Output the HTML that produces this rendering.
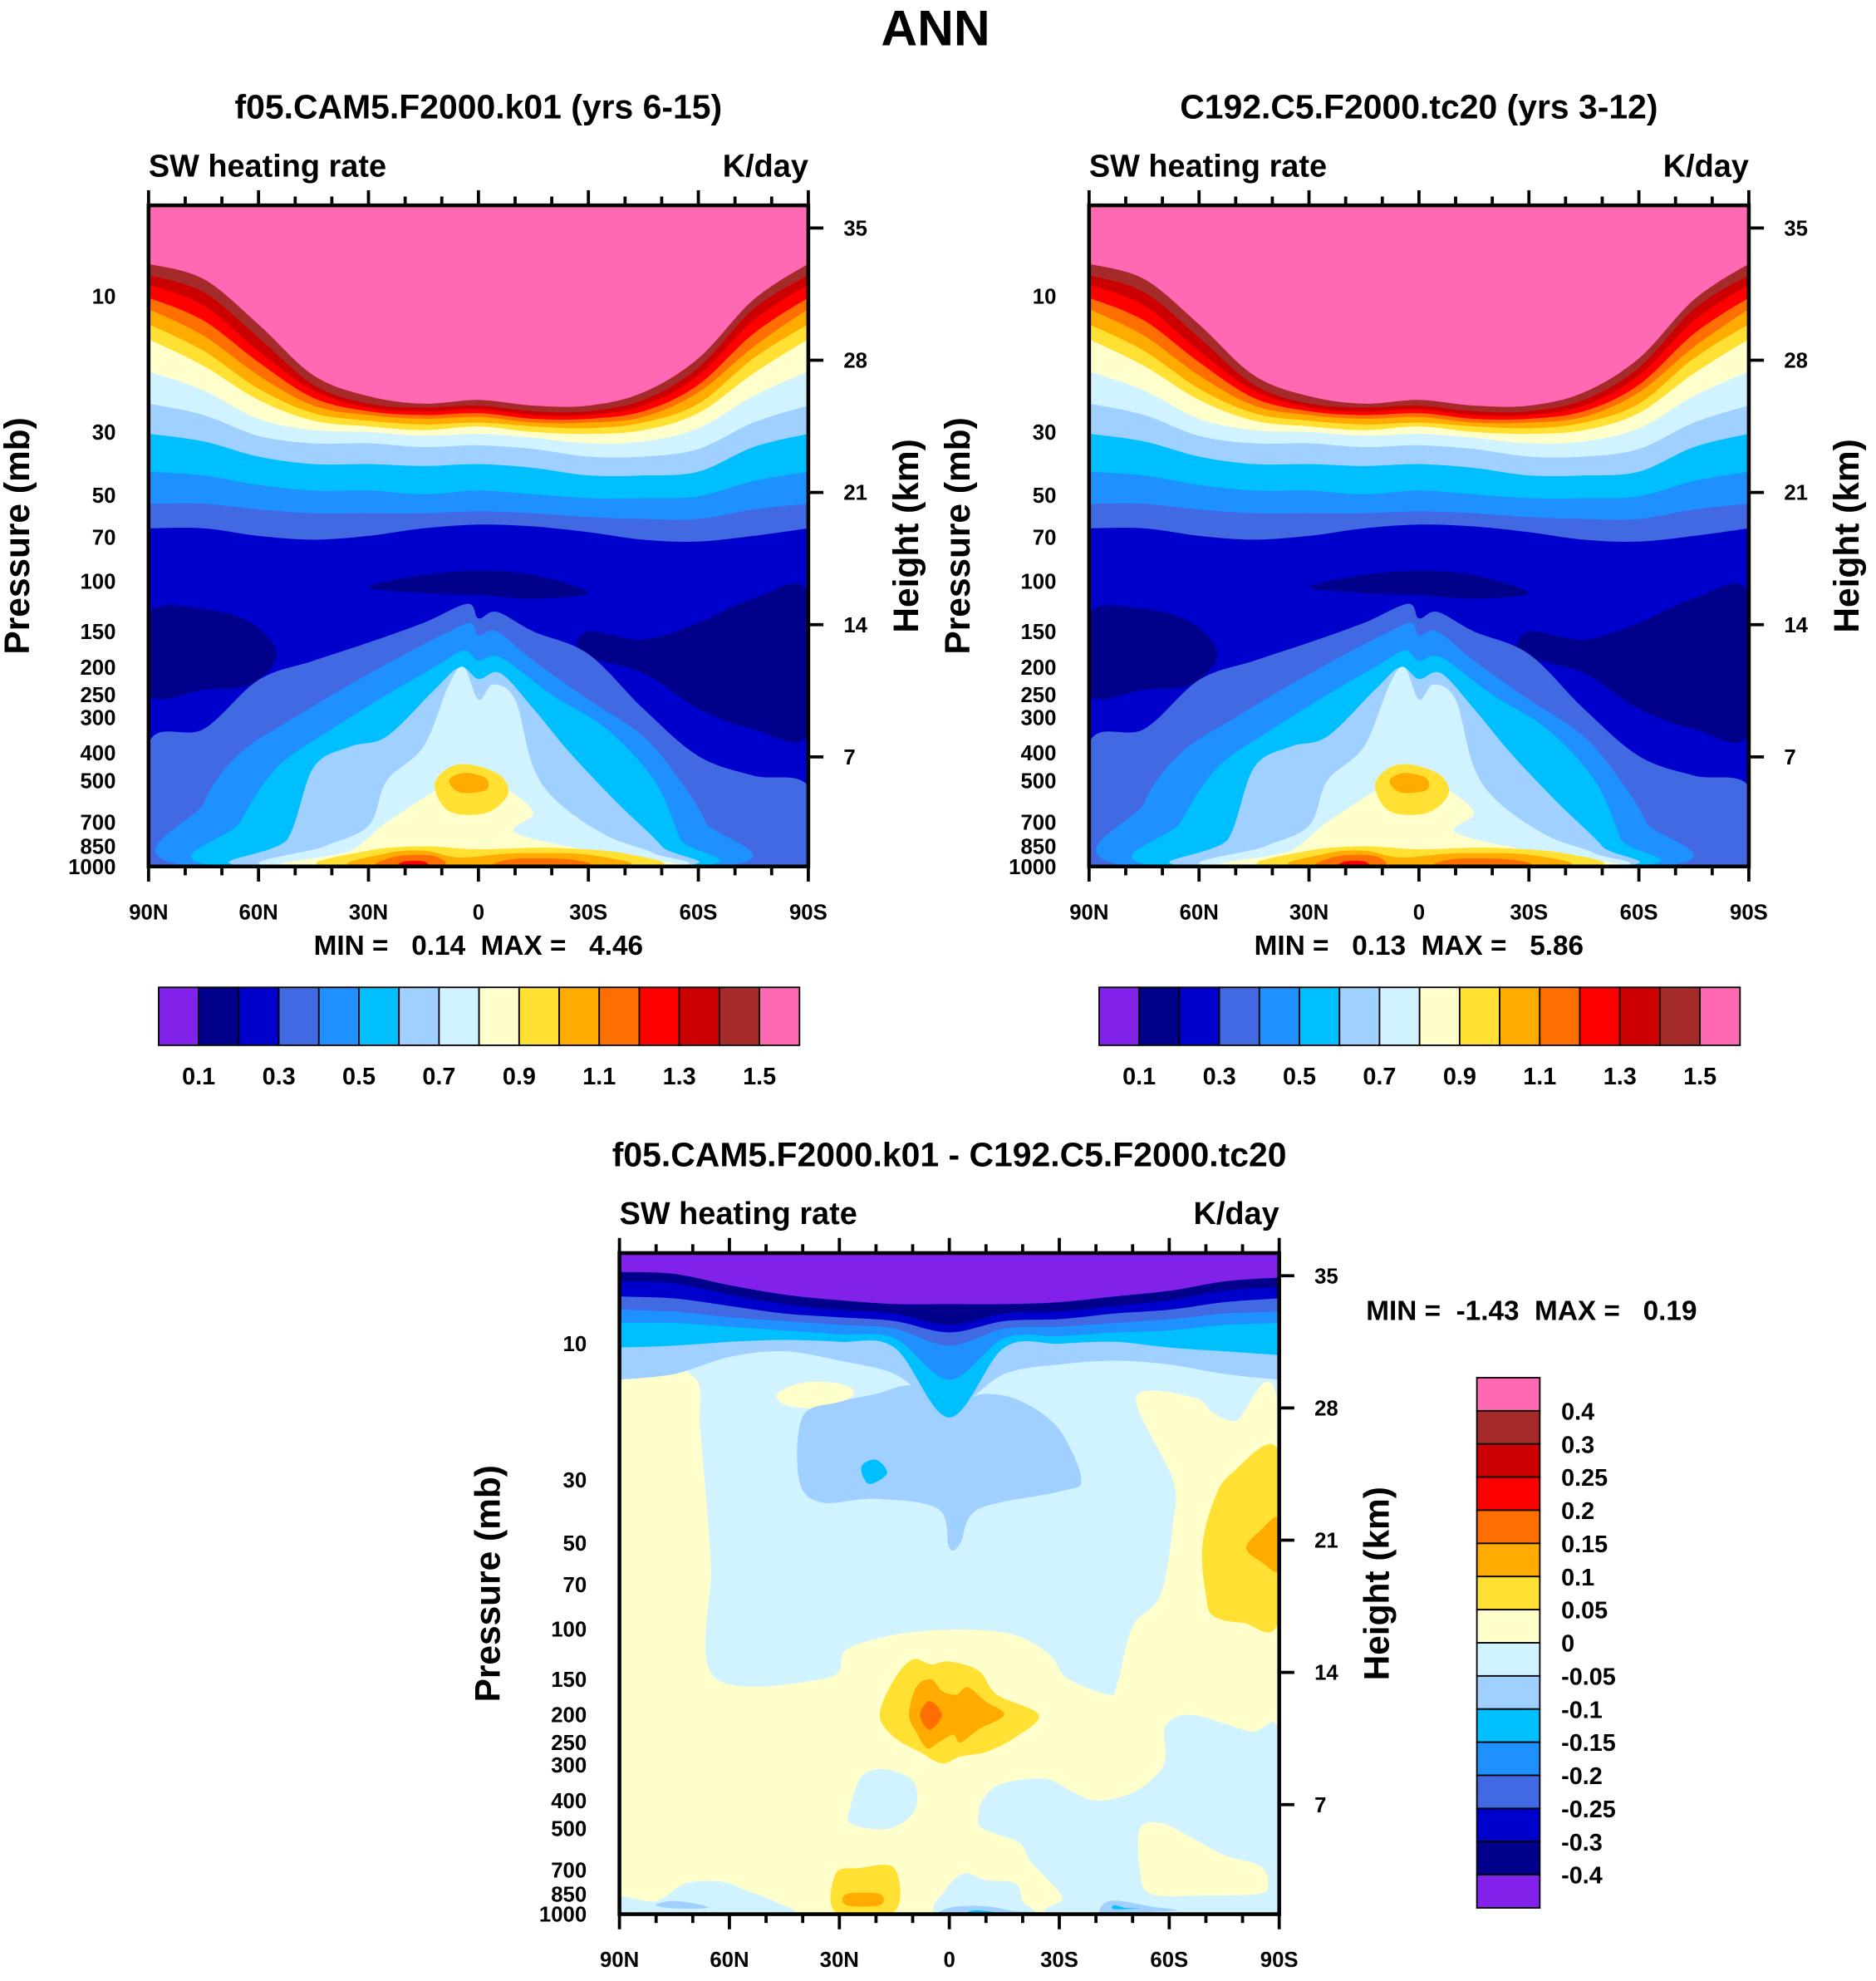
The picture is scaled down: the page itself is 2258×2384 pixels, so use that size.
<!DOCTYPE html>
<html><head><meta charset="utf-8"><title>ANN SW heating rate</title>
<style>
html,body{margin:0;padding:0;background:#fff;}
svg{display:block;}
text{font-family:"Liberation Sans",Arial,sans-serif;font-weight:bold;fill:#000;white-space:pre;}
</style></head>
<body>
<svg id="fig" xmlns="http://www.w3.org/2000/svg" width="2258" height="2384" viewBox="0 0 1490 1573">
<rect width="1490" height="1573" fill="#fff"/>
<text x="743" y="36" font-size="40" text-anchor="middle">ANN</text>
<g id="root"></g>
</svg>
<script>
// ---------- data ----------
const LATS=[90,75,60,45,30,15,0,-15,-30,-45,-60,-75,-90];
const LEVELS_ABS=[0.1,0.2,0.3,0.4,0.5,0.6,0.7,0.8,0.9,1.0,1.1,1.2,1.3,1.4,1.5];
const TICKS_ABS=["0.1","0.3","0.5","0.7","0.9","1.1","1.3","1.5"];
const TICKS_DIFF=["0.4","0.3","0.25","0.2","0.15","0.1","0.05","0","-0.05","-0.1","-0.15","-0.2","-0.25","-0.3","-0.4"];
const P_TICKS=[10,30,50,70,100,150,200,250,300,400,500,700,850,1000];
const KM_TICKS=[35,28,21,14,7];
const LAT_LABELS=["90N","60N","30N","0","30S","60S","90S"];
const LAT_VALUES=[90,60,30,0,-30,-60,-90];
// stratospheric contour heights (km) at LATS for levels 0.3..1.5 (panel 1 & 2)
const strat03=[19.1,19.1,18.7,18.5,18.7,19.1,19.3,19.2,18.9,18.5,18.4,18.7,19.1];
const strat04=[20.4,20.4,20.1,19.9,19.9,19.9,20,19.9,19.7,19.6,19.6,20.1,20.4];
const strat05=[22.1,21.9,21.4,21.1,21.1,20.9,21.1,20.9,20.7,20.7,20.8,21.6,22.1];
const strat06=[24.1,23.7,22.9,22.5,22.5,22.4,22.5,22.3,21.9,21.9,22.1,23.4,24.1];
const strat07=[25.7,25.1,24,23.6,23.6,23.4,23.5,23.3,22.9,22.9,23.3,24.7,25.6];
const strat08=[27.4,26.4,24.9,24.3,24.2,24,24.1,23.9,23.6,23.7,24.4,26.1,27.4];
const strat09=[29.1,27.7,25.9,24.8,24.5,24.3,24.5,24.2,24.1,24.3,25.2,27.3,29.1];
const strat10=[29.9,28.5,26.5,25.2,24.8,24.6,24.7,24.5,24.4,24.7,25.7,28.1,29.9];
const strat11=[30.7,29.3,27.2,25.6,25.1,24.9,25,24.7,24.7,25,26.3,28.7,30.7];
const strat12=[31.3,30.1,27.9,26,25.3,25.1,25.2,24.9,24.9,25.3,26.7,29.4,31.3];
const strat13=[32,30.9,28.5,26.4,25.5,25.3,25.4,25.1,25.1,25.6,27.2,30.1,32];
const strat14=[32.5,31.6,29.2,26.7,25.7,25.5,25.6,25.3,25.3,25.9,27.6,30.7,32.5];
const strat15=[33.1,32.3,29.9,27.2,26.1,25.7,25.9,25.6,25.6,26.3,28.1,31.2,33.1];
// tropospheric contour polygons [lat, pressure mb]
const navyLeft=[[90,130],[75,125],[62,140],[55,180],[62,230],[75,240],[90,250]];
const navyRight=[[-90,110],[-75,115],[-60,140],[-45,160],[-30,150],[-28,180],[-45,210],[-60,280],[-75,330],[-90,340]];
const navyCenter=[[30,105],[15,95],[0,92],[-15,95],[-30,110],[-15,115],[0,112],[15,110]];
const trop03=[[90,1000],[90,370],[75,330],[60,222],[45,190],[30,164],[15,140],[3,120],[0,135],[-5,128],[-15,150],[-30,180],[-45,280],[-60,410],[-75,480],[-90,525],[-90,1000]];
const trop04=[[78,1000],[75,600],[65,400],[50,300],[35,230],[20,180],[8,150],[2,140],[0,155],[-5,150],[-15,190],[-30,260],[-45,350],[-55,500],[-62,700],[-65,1000]];
const trop05=[[70,1000],[65,700],[55,450],[40,330],[25,250],[12,200],[4,175],[0,190],[-6,185],[-20,250],[-35,330],[-48,500],[-55,800],[-57,1000]];
const trop06=[[62,1000],[52,800],[45,450],[35,380],[25,350],[12,240],[5,200],[0,220],[-6,210],[-15,280],[-25,400],[-38,600],[-50,850],[-52,1000]];
const trop07=[[55,1000],[42,850],[30,720],[25,500],[15,380],[8,230],[4,200],[0,260],[-4,230],[-10,260],[-15,450],[-22,600],[-35,780],[-48,900],[-50,1000]];
const trop08=[[50,1000],[35,880],[25,700],[10,530],[0,500],[-8,540],[-15,650],[-10,760],[-30,880],[-45,940],[-48,1000]];
const trop09a=[[12,520],[8,450],[2,440],[-6,480],[-8,560],[-2,650],[8,640]];
const trop09b=[[40,1000],[30,880],[15,850],[0,870],[-20,860],[-40,900],[-45,1000]];
const trop10a=[[8,500],[4,470],[-2,490],[-2,540],[5,550]];
const trop10b=[[32,1000],[25,900],[15,880],[5,930],[-10,900],[-30,910],[-38,1000]];
const trop11a=[[28,1000],[22,920],[12,920],[10,1000]];
const trop11b=[[-5,1000],[-10,940],[-25,945],[-30,1000]];
const trop12=[[22,1000],[20,960],[15,960],[14,1000]];
// difference panel: stratospheric heights (km) for levels -0.1..-0.4 (top layers)
const dStratSky=[29.5,29.8,30.7,31,30.5,29.8,28,29.8,30.3,30.5,30.3,29.8,29.5];
const dStratDeep=[31.2,31.3,31.5,31.6,31.5,31.2,27.5,31.2,31.4,31.5,31.2,31,30.8];
const dStratDodger=[32.5,32.5,32.3,32.1,31.9,31.7,29.5,31.7,31.8,32,32.1,32.4,32.5];
const dStratRoyal=[33.2,33.1,32.8,32.6,32.4,32.2,31.3,32.2,32.3,32.5,32.7,33,33.1];
const dStratMedium=[33.9,33.8,33.4,33,32.8,32.6,32,32.6,32.7,33,33.2,33.6,33.8];
const dStratNavy=[34.7,34.6,34,33.5,33.2,33,32.4,33,33.1,33.4,33.7,34.2,34.4];
const dStratPurple=[35.2,35.1,34.5,34,33.7,33.5,33.5,33.5,33.6,33.9,34.2,34.7,34.9];
const dYellowMain=[[90,13],[70,13],[68,20],[66,40],[65,62],[64,148],[33,148],[27.5,117],[8.4,102],[-15,103],[-27,122],[-32,148],[-43.6,170],[-46,153],[-50,98],[-57.6,76],[-61,43],[-61,30],[-51,15.4],[-66.6,15.4],[-72,17.5],[-78,18.7],[-90,18],[-90,1000],[90,1000]];
const dYellowSmall=[[47,15],[40,13.7],[30,13.8],[26,15],[33,16.8],[44,16.5]];
const dSkyBlob=[[40,18],[30,16],[20,15],[10,14],[0,16],[-10,15],[-20,16],[-30,20],[-36,30],[-30,33],[-8,38],[-3,50],[0,52],[3,38],[20,35],[35,36],[41,30]];
const dDeepSpot=[[24,27],[20,25.5],[17,28.5],[22,31]];
const dGoldRight=[[-90,24],[-77,28.5],[-72,36],[-69,52],[-70,76],[-72,90],[-80,95],[-90,92]];
const dOrangeRight=[[-90,41],[-85,45],[-81,52],[-85,58],[-90,62]];
const dCyanRight=[[-59,219],[-66,200],[-82,229],[-90,237],[-90,1000],[-30,1000],[-31,880],[-27,760],[-22,650],[-19,560],[-9,500],[-8,450],[-9,400],[-14,350],[-26,335],[-33,368],[-40,400],[-50,375],[-57,320],[-59,280]];
const dYellowLowRight=[[-52,500],[-58,480],[-65,530],[-75,620],[-85,680],[-87,800],[-84,850],[-70,860],[-55,850],[-52,700]];
const dGoldCenter=[[19,200],[15,150],[10,128],[5,133],[0,130],[-8,140],[-13,170],[-24.4,200],[-18,240],[-10,270],[-3,280],[2,296],[8,270],[15,240]];
const dOrangeCenter=[[11,200],[9,160],[5,150],[2,165],[-2,170],[-5,160],[-10,180],[-15,200],[-8,225],[-3,250],[-1,235],[3,250],[6,262],[9,230]];
const dDarkOrangeCenter=[[8,200],[6,180],[4,183],[2,200],[4,220],[6,224]];
const dCyanMid=[[27,420],[24,330],[18,310],[10,340],[9,420],[13,480],[19,505],[27,480]];
const dCyanLowLeft=[[90,1000],[90,870],[80,900],[72,780],[62,770],[55,830],[48,900],[45,1000]];
const dCyanLowCenter=[[3,1000],[1,820],[-4,720],[-10,760],[-18,780],[-20,900],[-22,1000]];
const dSkyLowLeft=[[80,930],[76,900],[70,915],[66,950],[75,955]];
const dSkyLowCenter=[[3,990],[0,950],[-5,935],[-12,945],[-18,975],[-30,990],[-15,1000],[0,1000]];
const dDeepLowCenter=[[-7,970],[-12,985],[-5,992]];
const dSkyLowRight=[[-41,960],[-43,905],[-47,900],[-55,940],[-62,970],[-48,990],[-42,995]];
const dDeepLowRight=[[-45,930],[-48,950],[-52,955],[-45,960]];
const dGoldLow=[[31,720],[25,690],[15,690],[15,980],[31,985]];
const dOrangeLow=[[28,850],[19,850],[19,930],[28,930]];

// ---------- colours ----------
const C={purple:"#8121ea",navy:"#00008b",medium:"#0000cd",royal:"#4169e1",dodger:"#1e90ff",deep:"#00bfff",sky:"#a0d0ff",cyan:"#d1f3ff",lyellow:"#ffffcc",gold:"#ffe033",orange:"#ffab00",dorange:"#ff6e00",red:"#ff0000",dred:"#cc0000",brown:"#a52a2a",pink:"#ff69b4"};
const CB=[C.purple,C.navy,C.medium,C.royal,C.dodger,C.deep,C.sky,C.cyan,C.lyellow,C.gold,C.orange,C.dorange,C.red,C.dred,C.brown,C.pink];

const NS="http://www.w3.org/2000/svg";
const root=document.getElementById('root');
function el(tag,attrs,parent){const e=document.createElementNS(NS,tag);for(const k in attrs)e.setAttribute(k,attrs[k]);(parent||root).appendChild(e);return e;}
function txt(str,attrs,parent){const t=el('text',attrs,parent);t.textContent=str;return t;}
function smooth(pts,closed){
  const n=pts.length;let d="M"+pts[0][0].toFixed(1)+","+pts[0][1].toFixed(1);
  const g=i=>closed?pts[(i+n)%n]:pts[Math.max(0,Math.min(n-1,i))];
  const last=closed?n:n-1;
  for(let i=0;i<last;i++){
    const p0=g(i-1),p1=g(i),p2=g(i+1),p3=g(i+2);
    const c1=[p1[0]+(p2[0]-p0[0])/6,p1[1]+(p2[1]-p0[1])/6];
    const c2=[p2[0]-(p3[0]-p1[0])/6,p2[1]-(p3[1]-p1[1])/6];
    d+="C"+c1[0].toFixed(1)+","+c1[1].toFixed(1)+" "+c2[0].toFixed(1)+","+c2[1].toFixed(1)+" "+p2[0].toFixed(1)+","+p2[1].toFixed(1);
  }
  return d+(closed?"Z":"");
}

function makePanel(cfg){
  const L=cfg.x0,R=cfg.x0+524,T=cfg.yTen-72,B=cfg.yTen+453;
  const X=lat=>L+(90-lat)*524/180;
  const YP=p=>cfg.yTen+226.5*(Math.log10(p)-1);
  const YK=km=>cfg.y35+15*(35-km);
  const g=el('g',{});
  
  
  const cid='clip-'+cfg.name;
  const cp=el('clipPath',{id:cid},g);el('rect',{x:L,y:T,width:524,height:B-T},cp);
  const plot=el('g',{'clip-path':'url(#'+cid+')'},g);
  
  
  el('rect',{x:L,y:T,width:524,height:B-T,fill:cfg.bg},plot);
  cfg.layers.forEach(ly=>{
    let d;
    if(ly.type==='top'){
      const pts=LATS.map((lat,i)=>[X(lat),YK(ly.data[i])]);
      pts.unshift([X(92),YK(ly.data[0])]);pts.push([X(-92),YK(ly.data[12])]);
      d=smooth(pts,false)+"L"+(R+10)+","+(T-10)+"L"+(L-10)+","+(T-10)+"Z";
    }else{
      d=smooth(ly.data.map(q=>[X(q[0]),YP(q[1])]),true);
    }
    const p=el('path',{d:d,fill:ly.color},plot);
    
    
  });
  const frame=el('rect',{x:L,y:T,width:524,height:B-T,fill:'none',stroke:'#000','stroke-width':3},g);
  
  
  // lat ticks top & bottom
  for(let lat=90;lat>=-90;lat-=10){
    const major=lat%30===0,len=major?12:7,x=X(lat);
    el('line',{x1:x,y1:T,x2:x,y2:T-len,stroke:'#000','stroke-width':2.5},g);
    el('line',{x1:x,y1:B,x2:x,y2:B+len,stroke:'#000','stroke-width':2.5},g);
  }
  LAT_VALUES.forEach((lat,i)=>{
    const t=txt(LAT_LABELS[i],{x:X(lat),y:B+42,'font-size':17,'text-anchor':'middle'},g);
    
    
  });
  P_TICKS.forEach(p=>{
    const t=txt(String(p),{x:L-26,y:YP(p)+6,'font-size':17,'text-anchor':'end'},g);
    
    
  });
  KM_TICKS.forEach(k=>{
    el('line',{x1:R,y1:YK(k),x2:R+12,y2:YK(k),stroke:'#000','stroke-width':2.5},g);
    const t=txt(String(k),{x:R+28,y:YK(k)+6,'font-size':17},g);
    
    
  });
  const cy=(T+B)/2;
  const yl=txt('Pressure (mb)',{x:0,y:0,'font-size':28,'text-anchor':'middle',transform:'translate('+(L-95)+','+cy+') rotate(-90)'},g);
  
  
  const yr=txt('Height (km)',{x:0,y:0,'font-size':28,'text-anchor':'middle',transform:'translate('+(R+87)+','+cy+') rotate(-90)'},g);
  
  
  const tt=txt(cfg.title,{x:(L+R)/2,y:T-69,'font-size':27,'text-anchor':'middle'},g);
  
  
  const sw=txt('SW heating rate',{x:L,y:T-23,'font-size':25},g);
  
  
  const un=txt('K/day',{x:R,y:T-23,'font-size':25,'text-anchor':'end'},g);
  
  
  const mm=txt(cfg.minmax,{x:cfg.mmx,y:cfg.mmy,'font-size':22,'text-anchor':cfg.mmAnchor},g);
  
  
}

function absLayers(extra){
  return [
    {type:'poly',data:navyLeft,color:C.navy,name:'navy-blob-nh'},
    {type:'poly',data:navyRight,color:C.navy,name:'navy-blob-sh'},
    {type:'poly',data:navyCenter,color:C.navy,name:'navy-blob-tropopause'},
    {type:'top',data:strat03,color:C.royal,name:'band-0.3'},
    {type:'top',data:strat04,color:C.dodger,name:'band-0.4'},
    {type:'top',data:strat05,color:C.deep,name:'band-0.5'},
    {type:'top',data:strat06,color:C.sky,name:'band-0.6'},
    {type:'top',data:strat07,color:C.cyan,name:'band-0.7'},
    {type:'top',data:strat08,color:C.lyellow,name:'band-0.8'},
    {type:'top',data:strat09,color:C.gold,name:'band-0.9'},
    {type:'top',data:strat10,color:C.orange,name:'band-1.0'},
    {type:'top',data:strat11,color:C.dorange,name:'band-1.1'},
    {type:'top',data:strat12,color:C.red,name:'band-1.2'},
    {type:'top',data:strat13,color:C.dred,name:'band-1.3'},
    {type:'top',data:strat14,color:C.brown,name:'band-1.4'},
    {type:'top',data:strat15,color:C.pink,name:'band-1.5'},
    {type:'poly',data:trop03,color:C.royal,name:'trop-0.3'},
    {type:'poly',data:trop04,color:C.dodger,name:'trop-0.4'},
    {type:'poly',data:trop05,color:C.deep,name:'trop-0.5'},
    {type:'poly',data:trop06,color:C.sky,name:'trop-0.6'},
    {type:'poly',data:trop07,color:C.cyan,name:'trop-0.7'},
    {type:'poly',data:trop08,color:C.lyellow,name:'trop-0.8'},
    {type:'poly',data:trop09a,color:C.gold,name:'trop-0.9-mid'},
    {type:'poly',data:trop09b,color:C.gold,name:'trop-0.9-sfc'},
    {type:'poly',data:trop10a,color:C.orange,name:'trop-1.0-mid'},
    {type:'poly',data:trop10b,color:C.orange,name:'trop-1.0-sfc'},
    {type:'poly',data:trop11a,color:C.dorange,name:'trop-1.1-nh'},
    {type:'poly',data:trop11b,color:C.dorange,name:'trop-1.1-sh'},
    {type:'poly',data:trop12,color:C.red,name:'trop-1.2'}
  ];
}

makePanel({name:'panel-model',x0:118,yTen:235,y35:181,bg:C.medium,title:'f05.CAM5.F2000.k01 (yrs 6-15)',minmax:'MIN =   0.14  MAX =   4.46',mmx:380,mmy:758,mmAnchor:'middle',layers:absLayers()});
makePanel({name:'panel-control',x0:865,yTen:235,y35:181,bg:C.medium,title:'C192.C5.F2000.tc20 (yrs 3-12)',minmax:'MIN =   0.13  MAX =   5.86',mmx:1127,mmy:758,mmAnchor:'middle',layers:absLayers()});
makePanel({name:'panel-difference',x0:492,yTen:1067,y35:1013,bg:C.cyan,title:'f05.CAM5.F2000.k01 - C192.C5.F2000.tc20',minmax:'MIN =  -1.43  MAX =   0.19',mmx:1085,mmy:1048,mmAnchor:'start',layers:[
  {type:'poly',data:dYellowMain,color:C.lyellow,name:'diff-positive-region'},
  {type:'poly',data:dYellowSmall,color:C.lyellow,name:'diff-positive-blob'},
  {type:'poly',data:dSkyBlob,color:C.sky,name:'diff-neg-blob'},
  {type:'poly',data:dDeepSpot,color:C.deep,name:'diff-neg-spot'},
  {type:'top',data:dStratSky,color:C.sky,name:'diff-band--0.05'},
  {type:'top',data:dStratDeep,color:C.deep,name:'diff-band--0.1'},
  {type:'top',data:dStratDodger,color:C.dodger,name:'diff-band--0.15'},
  {type:'top',data:dStratRoyal,color:C.royal,name:'diff-band--0.2'},
  {type:'top',data:dStratMedium,color:C.medium,name:'diff-band--0.25'},
  {type:'top',data:dStratNavy,color:C.navy,name:'diff-band--0.3'},
  {type:'top',data:dStratPurple,color:C.purple,name:'diff-band--0.4'},
  {type:'poly',data:dGoldRight,color:C.gold,name:'diff-gold-sh'},
  {type:'poly',data:dOrangeRight,color:C.orange,name:'diff-orange-sh'},
  {type:'poly',data:dCyanRight,color:C.cyan,name:'diff-neg-sh-trop'},
  {type:'poly',data:dYellowLowRight,color:C.lyellow,name:'diff-pos-sh-low'},
  {type:'poly',data:dGoldCenter,color:C.gold,name:'diff-gold-center'},
  {type:'poly',data:dOrangeCenter,color:C.orange,name:'diff-orange-center'},
  {type:'poly',data:dDarkOrangeCenter,color:C.dorange,name:'diff-darkorange-center'},
  {type:'poly',data:dCyanMid,color:C.cyan,name:'diff-neg-mid'},
  {type:'poly',data:dCyanLowLeft,color:C.cyan,name:'diff-neg-low-nh'},
  {type:'poly',data:dCyanLowCenter,color:C.cyan,name:'diff-neg-low-eq'},
  {type:'poly',data:dSkyLowLeft,color:C.sky,name:'diff-sky-low-nh'},
  {type:'poly',data:dSkyLowCenter,color:C.sky,name:'diff-sky-low-eq'},
  {type:'poly',data:dDeepLowCenter,color:C.deep,name:'diff-deep-low-eq'},
  {type:'poly',data:dSkyLowRight,color:C.sky,name:'diff-sky-low-sh'},
  {type:'poly',data:dDeepLowRight,color:C.deep,name:'diff-deep-low-sh'},
  {type:'poly',data:dGoldLow,color:C.gold,name:'diff-gold-low'},
  {type:'poly',data:dOrangeLow,color:C.orange,name:'diff-orange-low'}
]});

// horizontal colorbars
function hbar(x0,name){
  const g=el('g',{});
  
  
  const w=509/CB.length;
  CB.forEach((c,i)=>{
    const r=el('rect',{x:x0+i*w,y:784,width:w,height:46,fill:c,stroke:'#000','stroke-width':1.2},g);
    
    
  });
  TICKS_ABS.forEach((s,i)=>{
    const t=txt(s,{x:x0+(2*i+1)*w,y:861,'font-size':19,'text-anchor':'middle'},g);
    
    
  });
}
hbar(126,'colorbar-model');
hbar(873,'colorbar-control');
// vertical colorbar
(function(){
  const g=el('g',{});
  
  
  const h=421/16;
  const cols=CB.slice().reverse();
  cols.forEach((c,i)=>{
    const r=el('rect',{x:1173,y:1094+i*h,width:50,height:h,fill:c,stroke:'#000','stroke-width':1.2},g);
    
    
  });
  TICKS_DIFF.forEach((s,i)=>{
    const t=txt(s,{x:1240,y:1094+(i+1)*h+7,'font-size':19},g);
    
    
  });
})();
</script>
</body></html>
